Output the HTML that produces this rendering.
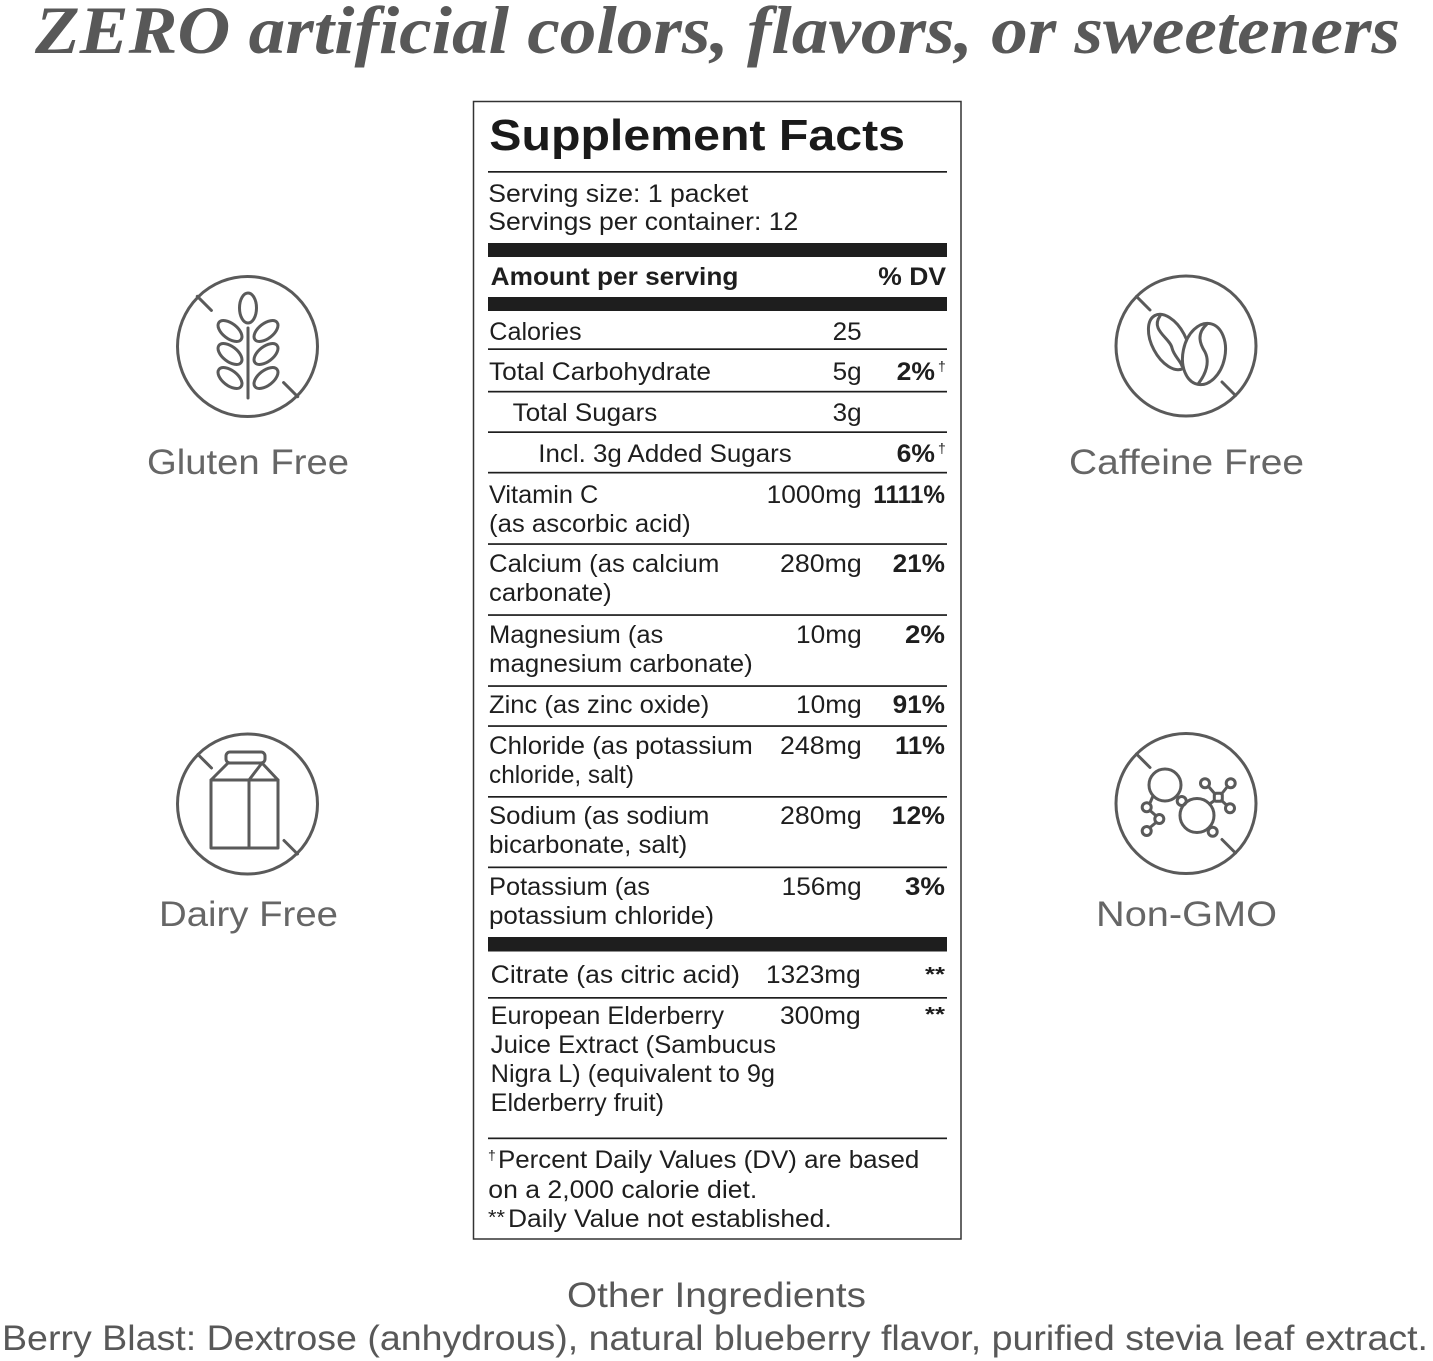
<!DOCTYPE html>
<html>
<head>
<meta charset="utf-8">
<style>
html,body{margin:0;padding:0;background:#fff;}
svg{display:block;}
.b{font-family:"Liberation Sans",Arial,sans-serif;font-size:25px;fill:#1e1e1e;}
.bb{font-family:"Liberation Sans",Arial,sans-serif;font-size:25px;font-weight:bold;fill:#1e1e1e;}
.ic{font-family:"Liberation Sans",Arial,sans-serif;font-size:35px;fill:#666;}
.ot{font-family:"Liberation Sans",Arial,sans-serif;font-size:35px;fill:#585858;}
</style>
</head>
<body>
<svg width="1433" height="1361" viewBox="0 0 1433 1361" xmlns="http://www.w3.org/2000/svg">
<rect x="0" y="0" width="1433" height="1361" fill="#fff"/>

<!-- Headline -->
<text x="35" y="53" font-family="Liberation Serif, serif" font-style="italic" font-weight="bold" font-size="68" fill="#585858" textLength="1365" lengthAdjust="spacingAndGlyphs">ZERO artificial colors, flavors, or sweeteners</text>

<!-- ICONS -->
<g fill="none" stroke="#5a5a5a" stroke-width="3" stroke-linecap="round" stroke-linejoin="round">
  <!-- Gluten free -->
  <circle cx="247.5" cy="346.5" r="70"/>
  <line x1="197.3" y1="296.3" x2="211.4" y2="310.4"/>
  <line x1="283.6" y1="382.6" x2="297.7" y2="396.7"/>
  <line x1="248" y1="328" x2="248" y2="398"/>
  <ellipse cx="248" cy="308" rx="8.5" ry="15"/>
  <ellipse cx="230" cy="331" rx="14" ry="7.5" transform="rotate(38 230 331)"/>
  <ellipse cx="230" cy="354" rx="14" ry="7.5" transform="rotate(38 230 354)"/>
  <ellipse cx="230" cy="378" rx="14" ry="7.5" transform="rotate(38 230 378)"/>
  <ellipse cx="266" cy="331" rx="14" ry="7.5" transform="rotate(-38 266 331)"/>
  <ellipse cx="266" cy="354" rx="14" ry="7.5" transform="rotate(-38 266 354)"/>
  <ellipse cx="266" cy="378" rx="14" ry="7.5" transform="rotate(-38 266 378)"/>

  <!-- Caffeine free -->
  <circle cx="1186" cy="346" r="70"/>
  <line x1="1136.5" y1="296.5" x2="1150" y2="310"/>
  <line x1="1222" y1="382" x2="1235.5" y2="395.5"/>
  <ellipse cx="1169" cy="342" rx="17" ry="30" transform="rotate(-28 1169 342)"/>
  <path d="M1160 316 C1150 330 1170 338 1172 348 C1174 356 1180 360 1182 366"/>
  <ellipse cx="1204" cy="354" rx="21" ry="31" transform="rotate(12 1204 354)" fill="#fff"/>
  <path d="M1207 324 C1196 334 1200 344 1205 352 C1210 362 1206 374 1198 384"/>

  <!-- Dairy free -->
  <circle cx="247.5" cy="804" r="70"/>
  <line x1="198" y1="754.5" x2="211.5" y2="768"/>
  <line x1="284" y1="840.5" x2="297.5" y2="854"/>
  <rect x="226" y="752" width="39" height="11" rx="4"/>
  <path d="M211 780 L228 763 L262 763 L249 780 Z"/>
  <path d="M262 763 L278 780"/>
  <rect x="211" y="780" width="67" height="68"/>
  <line x1="249" y1="780" x2="249" y2="848"/>

  <!-- Non-GMO -->
  <circle cx="1186" cy="803.5" r="70"/>
  <line x1="1136.5" y1="754" x2="1150" y2="767.5"/>
  <line x1="1222" y1="839.5" x2="1235.5" y2="853"/>
  <circle cx="1165" cy="785" r="16"/>
  <circle cx="1197" cy="815.5" r="17"/>
  <circle cx="1181.7" cy="801" r="4.5"/>
  <line x1="1153" y1="796" x2="1150" y2="803"/>
  <circle cx="1146.7" cy="807.3" r="4.5"/>
  <line x1="1150" y1="810.5" x2="1156" y2="815.8"/>
  <circle cx="1159.3" cy="819" r="4.5"/>
  <line x1="1156" y1="822.5" x2="1150" y2="827.5"/>
  <circle cx="1146.7" cy="831" r="4.5"/>
  <circle cx="1212.7" cy="831.7" r="4.5"/>
  <line x1="1209.5" y1="804" x2="1214.5" y2="800.5"/>
  <rect x="1214.3" y="793.3" width="8" height="8" rx="1.5"/>
  <line x1="1215" y1="794" x2="1208.5" y2="786.5"/>
  <circle cx="1205" cy="783.3" r="4.5"/>
  <line x1="1221.5" y1="794" x2="1227.5" y2="786.5"/>
  <circle cx="1230.7" cy="783.3" r="4.5"/>
  <line x1="1221.5" y1="800.5" x2="1226.5" y2="805"/>
  <circle cx="1230" cy="808.3" r="4.5"/>
</g>

<text class="ic" x="147" y="474" textLength="202" lengthAdjust="spacingAndGlyphs">Gluten Free</text>
<text class="ic" x="1069" y="474" textLength="235" lengthAdjust="spacingAndGlyphs">Caffeine Free</text>
<text class="ic" x="159" y="926" textLength="179" lengthAdjust="spacingAndGlyphs">Dairy Free</text>
<text class="ic" x="1096" y="926" textLength="181" lengthAdjust="spacingAndGlyphs">Non-GMO</text>

<!-- LABEL BOX -->
<rect x="473.5" y="101.5" width="487.5" height="1137.5" fill="#fff" stroke="#333" stroke-width="1.5"/>

<text x="489.3" y="150" font-family="Liberation Sans, Arial, sans-serif" font-weight="bold" font-size="44" fill="#1a1a1a" textLength="415.7" lengthAdjust="spacingAndGlyphs">Supplement Facts</text>

<g fill="#1e1e1e">
  <rect x="488" y="171" width="459" height="1.7"/>
  <rect x="488" y="243" width="459" height="14"/>
  <rect x="488" y="297" width="459" height="14"/>
  <rect x="488" y="348.3" width="459" height="1.7"/>
  <rect x="488" y="390.8" width="459" height="1.7"/>
  <rect x="488" y="431.3" width="459" height="1.7"/>
  <rect x="488" y="471.8" width="459" height="1.7"/>
  <rect x="488" y="543.2" width="459" height="1.7"/>
  <rect x="488" y="614.2" width="459" height="1.7"/>
  <rect x="488" y="685.2" width="459" height="1.7"/>
  <rect x="488" y="725.2" width="459" height="1.7"/>
  <rect x="488" y="796" width="459" height="1.7"/>
  <rect x="488" y="866.5" width="459" height="1.7"/>
  <rect x="488" y="937" width="459" height="14.5"/>
  <rect x="488" y="997" width="459" height="1.7"/>
  <rect x="488" y="1137.5" width="459" height="1.7"/>
</g>

<text class="b" x="488.3" y="202" textLength="260" lengthAdjust="spacingAndGlyphs">Serving size: 1 packet</text>
<text class="b" x="488.3" y="230" textLength="310" lengthAdjust="spacingAndGlyphs">Servings per container: 12</text>

<text class="bb" x="490.7" y="285" textLength="247.7" lengthAdjust="spacingAndGlyphs">Amount per serving</text>
<text class="bb" x="878.3" y="285" textLength="67.7" lengthAdjust="spacingAndGlyphs">% DV</text>

<text class="b" x="489.3" y="340" textLength="92.3" lengthAdjust="spacingAndGlyphs">Calories</text>
<text class="b" x="832.7" y="340" textLength="29" lengthAdjust="spacingAndGlyphs">25</text>

<text class="b" x="489" y="380" textLength="222" lengthAdjust="spacingAndGlyphs">Total Carbohydrate</text>
<text class="b" x="832.7" y="380" textLength="29" lengthAdjust="spacingAndGlyphs">5g</text>
<text class="bb" x="896.7" y="380" textLength="38.3" lengthAdjust="spacingAndGlyphs">2%</text>
<text x="938" y="371" font-family="Liberation Sans, Arial, sans-serif" font-size="14" fill="#1e1e1e">†</text>

<text class="b" x="512.7" y="421" textLength="144.6" lengthAdjust="spacingAndGlyphs">Total Sugars</text>
<text class="b" x="832.7" y="421" textLength="29" lengthAdjust="spacingAndGlyphs">3g</text>

<text class="b" x="538.3" y="462" textLength="253.4" lengthAdjust="spacingAndGlyphs">Incl. 3g Added Sugars</text>
<text class="bb" x="896.7" y="462" textLength="38.3" lengthAdjust="spacingAndGlyphs">6%</text>
<text x="938" y="453" font-family="Liberation Sans, Arial, sans-serif" font-size="14" fill="#1e1e1e">†</text>

<text class="b" x="489" y="503" textLength="109.3" lengthAdjust="spacingAndGlyphs">Vitamin C</text>
<text class="b" x="489" y="532" textLength="201.7" lengthAdjust="spacingAndGlyphs">(as ascorbic acid)</text>
<text class="b" x="766.7" y="503" textLength="95" lengthAdjust="spacingAndGlyphs">1000mg</text>
<text class="bb" x="873.3" y="503" textLength="71.7" lengthAdjust="spacingAndGlyphs">1111%</text>

<text class="b" x="489" y="572" textLength="230.3" lengthAdjust="spacingAndGlyphs">Calcium (as calcium</text>
<text class="b" x="489" y="601" textLength="122.7" lengthAdjust="spacingAndGlyphs">carbonate)</text>
<text class="b" x="780" y="572" textLength="81.7" lengthAdjust="spacingAndGlyphs">280mg</text>
<text class="bb" x="892.7" y="572" textLength="52.3" lengthAdjust="spacingAndGlyphs">21%</text>

<text class="b" x="489" y="643" textLength="174.3" lengthAdjust="spacingAndGlyphs">Magnesium (as</text>
<text class="b" x="489" y="672" textLength="263.7" lengthAdjust="spacingAndGlyphs">magnesium carbonate)</text>
<text class="b" x="796" y="643" textLength="65.7" lengthAdjust="spacingAndGlyphs">10mg</text>
<text class="bb" x="905" y="643" textLength="40" lengthAdjust="spacingAndGlyphs">2%</text>

<text class="b" x="489" y="713" textLength="220.3" lengthAdjust="spacingAndGlyphs">Zinc (as zinc oxide)</text>
<text class="b" x="796" y="713" textLength="65.7" lengthAdjust="spacingAndGlyphs">10mg</text>
<text class="bb" x="892.7" y="713" textLength="52.3" lengthAdjust="spacingAndGlyphs">91%</text>

<text class="b" x="489" y="754" textLength="263.7" lengthAdjust="spacingAndGlyphs">Chloride (as potassium</text>
<text class="b" x="489" y="783" textLength="145" lengthAdjust="spacingAndGlyphs">chloride, salt)</text>
<text class="b" x="780" y="754" textLength="81.7" lengthAdjust="spacingAndGlyphs">248mg</text>
<text class="bb" x="895" y="754" textLength="50" lengthAdjust="spacingAndGlyphs">11%</text>

<text class="b" x="489" y="824" textLength="220.3" lengthAdjust="spacingAndGlyphs">Sodium (as sodium</text>
<text class="b" x="489" y="853" textLength="198.3" lengthAdjust="spacingAndGlyphs">bicarbonate, salt)</text>
<text class="b" x="780" y="824" textLength="81.7" lengthAdjust="spacingAndGlyphs">280mg</text>
<text class="bb" x="891.7" y="824" textLength="53.3" lengthAdjust="spacingAndGlyphs">12%</text>

<text class="b" x="489" y="895" textLength="161" lengthAdjust="spacingAndGlyphs">Potassium (as</text>
<text class="b" x="489" y="924" textLength="225" lengthAdjust="spacingAndGlyphs">potassium chloride)</text>
<text class="b" x="781.7" y="895" textLength="80" lengthAdjust="spacingAndGlyphs">156mg</text>
<text class="bb" x="905" y="895" textLength="40" lengthAdjust="spacingAndGlyphs">3%</text>

<text class="b" x="490.7" y="983" textLength="249.3" lengthAdjust="spacingAndGlyphs">Citrate (as citric acid)</text>
<text class="b" x="766" y="983" textLength="94.7" lengthAdjust="spacingAndGlyphs">1323mg</text>
<text x="925" y="981" font-family="Liberation Sans, Arial, sans-serif" font-weight="bold" font-size="20" fill="#1e1e1e" textLength="20" lengthAdjust="spacingAndGlyphs">**</text>

<text class="b" x="490.7" y="1024" textLength="233.3" lengthAdjust="spacingAndGlyphs">European Elderberry</text>
<text class="b" x="780" y="1024" textLength="80.7" lengthAdjust="spacingAndGlyphs">300mg</text>
<text x="925" y="1021" font-family="Liberation Sans, Arial, sans-serif" font-weight="bold" font-size="20" fill="#1e1e1e" textLength="20" lengthAdjust="spacingAndGlyphs">**</text>
<text class="b" x="490.7" y="1053" textLength="285.3" lengthAdjust="spacingAndGlyphs">Juice Extract (Sambucus</text>
<text class="b" x="490.7" y="1082" textLength="284.3" lengthAdjust="spacingAndGlyphs">Nigra L) (equivalent to 9g</text>
<text class="b" x="490.7" y="1111" textLength="173.3" lengthAdjust="spacingAndGlyphs">Elderberry fruit)</text>

<text x="488" y="1160" font-family="Liberation Sans, Arial, sans-serif" font-size="14" fill="#1e1e1e">†</text>
<text class="b" x="498" y="1168" textLength="421.3" lengthAdjust="spacingAndGlyphs">Percent Daily Values (DV) are based</text>
<text class="b" x="488.3" y="1198" textLength="269" lengthAdjust="spacingAndGlyphs">on a 2,000 calorie diet.</text>
<text x="488" y="1224" font-family="Liberation Sans, Arial, sans-serif" font-size="20" fill="#1e1e1e" textLength="17" lengthAdjust="spacingAndGlyphs">**</text>
<text class="b" x="508" y="1227" textLength="323.7" lengthAdjust="spacingAndGlyphs">Daily Value not established.</text>

<!-- Bottom -->
<text class="ot" x="567" y="1307" textLength="299" lengthAdjust="spacingAndGlyphs">Other Ingredients</text>
<text class="ot" x="2" y="1350" textLength="1426" lengthAdjust="spacingAndGlyphs">Berry Blast: Dextrose (anhydrous), natural blueberry flavor, purified stevia leaf extract.</text>
</svg>
</body>
</html>
